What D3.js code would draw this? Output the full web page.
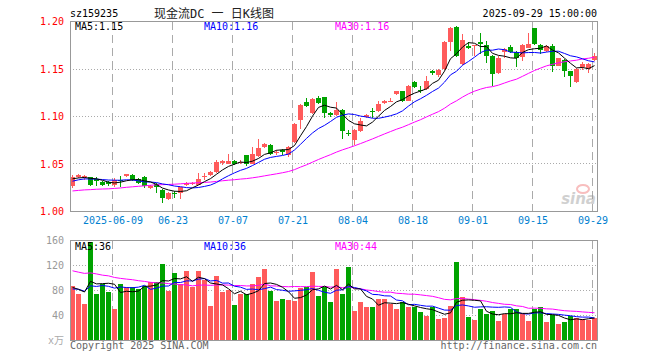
<!DOCTYPE html>
<html>
<head>
<meta charset="utf-8">
<script src="https://cdn.jsdelivr.net/npm/d3@7"></script>
<style>
  body { margin: 0; background: #fff; }
  svg text { font-family: "DejaVu Sans Mono", "Liberation Mono", "Noto Sans CJK SC", monospace; font-size: 10px; }
</style>
</head>
<body>
<svg id="chart" width="660" height="360"></svg>
<script>
// -------- data --------
const tickIndex = [7, 17, 27, 37, 47, 57, 67, 77, 87];
const tickLabels = ["2025-06-09", "06-23", "07-07", "07-21", "08-04", "08-18", "09-01", "09-15", "09-29"];
const priceTicks = [1.0, 1.05, 1.1, 1.15, 1.2];
const volTicks = [40, 80, 120, 160];

const opens = [
  1.0264, 1.0361, 1.0372, 1.0361, 1.034, 1.0313, 1.031, 1.0281, 1.0328, 1.037,
  1.0385, 1.034, 1.0368, 1.025, 1.029, 1.023, 1.0132, 1.02, 1.0194, 1.028,
  1.0285, 1.0281, 1.0358, 1.0385, 1.0413, 1.051, 1.05, 1.053, 1.051, 1.0594,
  1.0503, 1.058, 1.0677, 1.0705, 1.0625, 1.0645, 1.0594, 1.0733, 1.0958, 1.1156,
  1.104, 1.12, 1.1202, 1.104, 1.1016, 1.107, 1.0825, 1.0753, 1.0851, 1.099,
  1.1055, 1.1062, 1.114, 1.1155, 1.1238, 1.1265, 1.1167, 1.136, 1.1283, 1.129,
  1.1475, 1.144, 1.15, 1.1785, 1.1947, 1.1553, 1.1747, 1.1745, 1.1785, 1.1753,
  1.164, 1.1455, 1.168, 1.173, 1.168, 1.1628, 1.1725, 1.1927, 1.1753, 1.169,
  1.174, 1.1535, 1.16, 1.1476, 1.136, 1.1518, 1.15, 1.159
];
const closes = [
  1.0361, 1.0385, 1.0378, 1.0281, 1.0316, 1.0281, 1.029, 1.0333, 1.0325, 1.039,
  1.0333, 1.03, 1.0264, 1.027, 1.0257, 1.0142, 1.02, 1.0198, 1.0257, 1.0295,
  1.03, 1.0344, 1.0378, 1.0413, 1.0524, 1.053, 1.0528, 1.0497, 1.0524, 1.0497,
  1.0604, 1.067, 1.071, 1.0608, 1.063, 1.063, 1.068, 1.0924, 1.112, 1.1115,
  1.118, 1.114, 1.1038, 1.1016, 1.107, 1.0851, 1.082, 1.0858, 1.0956, 1.102,
  1.105, 1.1132, 1.116, 1.1165, 1.1265, 1.1167, 1.1325, 1.1307, 1.1278, 1.1378,
  1.1455, 1.149, 1.1785, 1.1934, 1.164, 1.1806, 1.1723, 1.1753, 1.176, 1.164,
  1.1448, 1.1615, 1.171, 1.1674, 1.162, 1.1753, 1.176, 1.176, 1.17, 1.174,
  1.1535, 1.1615, 1.148, 1.143, 1.15, 1.1554, 1.1554, 1.164
];
const highs = [
  1.038, 1.04, 1.0385, 1.0365, 1.036, 1.032, 1.0325, 1.035, 1.037, 1.04,
  1.039, 1.035, 1.037, 1.0275, 1.0295, 1.024, 1.0205, 1.022, 1.026, 1.031,
  1.031, 1.0403, 1.0403, 1.0425, 1.0538, 1.0545, 1.061, 1.054, 1.0545, 1.06,
  1.068, 1.076, 1.0725, 1.071, 1.065, 1.066, 1.069, 1.093, 1.113, 1.12,
  1.1195, 1.122, 1.121, 1.105, 1.1157, 1.108, 1.0858, 1.087, 1.098, 1.103,
  1.1087, 1.1165, 1.117, 1.12, 1.127, 1.127, 1.133, 1.137, 1.1318, 1.143,
  1.149, 1.15, 1.1795, 1.1945, 1.195, 1.1865, 1.1785, 1.1753, 1.1882, 1.1795,
  1.165, 1.164, 1.1725, 1.1757, 1.169, 1.176, 1.1875, 1.193, 1.176, 1.175,
  1.176, 1.162, 1.161, 1.148, 1.151, 1.157, 1.1565, 1.167
];
const lows = [
  1.025, 1.035, 1.0333, 1.027, 1.027, 1.027, 1.027, 1.026, 1.0257, 1.036,
  1.032, 1.029, 1.025, 1.024, 1.02, 1.009, 1.012, 1.014, 1.013, 1.027,
  1.0275, 1.028, 1.0333, 1.0375, 1.041, 1.049, 1.0495, 1.049, 1.0497, 1.0483,
  1.05, 1.0575, 1.0667, 1.06, 1.0594, 1.06, 1.0575, 1.0725, 1.087, 1.11,
  1.103, 1.113, 1.098, 1.1, 1.101, 1.0763, 1.079, 1.0703, 1.084, 1.098,
  1.0985, 1.105, 1.113, 1.115, 1.123, 1.115, 1.116, 1.13, 1.1243, 1.128,
  1.144, 1.142, 1.149, 1.169, 1.163, 1.154, 1.171, 1.164, 1.1656, 1.1566,
  1.1326, 1.145, 1.1615, 1.167, 1.1517, 1.1587, 1.172, 1.175, 1.1663, 1.168,
  1.1465, 1.153, 1.1413, 1.131, 1.135, 1.149, 1.146, 1.158
];
// volume, 万手
const volumes = [
  88, 74, 59, 157, 75, 90, 77, 51, 91, 85,
  86, 83, 88, 93, 94, 122, 79, 108, 90, 111,
  85, 112, 97, 55, 103, 78, 81, 57, 75, 75,
  90, 101, 115, 79, 64, 67, 65, 63, 84, 85,
  109, 72, 85, 61, 114, 74, 117, 47, 61, 54,
  53, 67, 67, 58, 50, 61, 54, 54, 45, 40,
  54, 35, 36, 56, 125, 70, 38, 33, 51, 42,
  48, 32, 42, 50, 50, 43, 32, 51, 54, 29,
  41, 26, 30, 40, 36, 35, 33, 36
];
// sessions before the visible window (estimated from where the MA lines start)
const priorCloses = [
  1.021, 1.022, 1.02, 1.019, 1.021, 1.023, 1.02, 1.018, 1.019, 1.017,
  1.014, 1.012, 1.01, 1.009, 1.011, 1.013, 1.012, 1.014, 1.016, 1.019,
  1.024, 1.028, 1.03, 1.032, 1.033, 1.034, 1.035, 1.033, 1.034
];
const priorVolumes = [
  140, 118, 132, 125, 150, 110, 128, 135, 120, 115,
  130, 122, 138, 118, 126, 112, 128, 120, 124, 130,
  78, 92, 70, 85, 75, 90, 80, 72, 95
];

// -------- setup --------
const svg = d3.select("#chart");
const left = 70, right = 597;
const n = closes.length;
const red = "#ff5b5b", green = "#00a300";
const maColours = { 5: "#000000", 10: "#0000ff", 30: "#ff00ff" };

// x: one 6px slot per session, candle body 5px wide
const x = d3.scaleLinear().domain([0, n]).range([left, left + n * 6]);
const bodyW = 5;
const y = d3.scaleLinear().domain([1.0, 1.2]).range([211.5, 21.5]);
const yv = d3.scaleLinear().domain([0, 160]).range([340.5, 240.5]);

// moving average over the visible window, using prior sessions for history
function movingAvg(series, prior, k) {
  const all = prior.concat(series);
  return series.map((d, i) => d3.mean(all.slice(prior.length + i - k + 1, prior.length + i + 1)));
}

const isUp = (i) => closes[i] >= opens[i];

// -------- grid --------
function drawGrid(top, bottom, hTicks, scale) {
  const g = svg.append("g").attr("shape-rendering", "crispEdges");
  g.selectAll("line.h")
    .data(hTicks)
    .enter()
    .append("line")
    .attr("x1", left)
    .attr("x2", right)
    .attr("y1", (d) => Math.round(scale(d) - 0.5) + 0.5)
    .attr("y2", (d) => Math.round(scale(d) - 0.5) + 0.5)
    .attr("stroke", "#aaa")
    .attr("stroke-dasharray", "1,2");
  g.selectAll("line.v")
    .data(tickIndex)
    .enter()
    .append("line")
    .attr("x1", (d) => x(d) + 0.5)
    .attr("x2", (d) => x(d) + 0.5)
    .attr("y1", top)
    .attr("y2", bottom)
    .attr("stroke", "#aaa")
    .attr("stroke-dasharray", "8,5");
}
drawGrid(21.5, 211.5, [1.05, 1.1, 1.15], y);
drawGrid(240.5, 340.5, [40, 80, 120], yv);

// -------- candles --------
const candles = svg
  .append("g")
  .attr("shape-rendering", "crispEdges")
  .selectAll("g")
  .data(d3.range(n))
  .enter()
  .append("g");

candles
  .append("line")
  .attr("x1", (i) => x(i) + 2.5)
  .attr("x2", (i) => x(i) + 2.5)
  .attr("y1", (i) => y(highs[i]))
  .attr("y2", (i) => y(lows[i]))
  .attr("stroke", (i) => (isUp(i) ? red : green));

candles
  .append("rect")
  .attr("x", (i) => x(i))
  .attr("width", bodyW)
  .attr("y", (i) => y(Math.max(opens[i], closes[i])))
  .attr("height", (i) => Math.max(1, Math.abs(y(opens[i]) - y(closes[i]))))
  .attr("fill", (i) => (isUp(i) ? red : green));

// -------- volume bars --------
svg
  .append("g")
  .attr("shape-rendering", "crispEdges")
  .selectAll("rect")
  .data(d3.range(n))
  .enter()
  .append("rect")
  .attr("x", (i) => x(i))
  .attr("width", bodyW)
  .attr("y", (i) => yv(volumes[i]))
  .attr("height", (i) => yv(0) - yv(volumes[i]))
  .attr("fill", (i) => (isUp(i) ? red : green));

// -------- moving averages --------
function drawMA(series, prior, scale) {
  [30, 10, 5].forEach((k) => {
    const ma = movingAvg(series, prior, k);
    svg
      .append("path")
      .datum(ma)
      .attr("fill", "none")
      .attr("stroke", maColours[k])
      .attr("stroke-width", 1)
      .attr("d", d3.line().x((d, i) => x(i) + 2.5).y((d) => scale(d)));
  });
}
drawMA(closes, priorCloses, y);
drawMA(volumes, priorVolumes, yv);

// -------- frames --------
[[21.5, 211.5], [240.5, 340.5]].forEach(([t, b]) => {
  svg
    .append("rect")
    .attr("x", left + 0.5)
    .attr("y", t)
    .attr("width", right - left)
    .attr("height", b - t)
    .attr("fill", "none")
    .attr("stroke", "#999")
    .attr("shape-rendering", "crispEdges");
});

// -------- axes --------
const yAxis = svg
  .append("g")
  .attr("transform", `translate(${left},0)`)
  .call(d3.axisLeft(y).tickValues(priceTicks).tickFormat(d3.format(".2f")).tickSize(0).tickPadding(6));
yAxis.select(".domain").remove();
yAxis.selectAll("text").attr("fill", "#f00").style("font-size", "10px").style("font-family", null);

const vAxis = svg
  .append("g")
  .attr("transform", `translate(${left},0)`)
  .call(d3.axisLeft(yv).tickValues(volTicks).tickSize(0).tickPadding(6));
vAxis.select(".domain").remove();
vAxis.selectAll("text").attr("fill", "#999").style("font-size", "10px").style("font-family", null);

const xAxis = svg
  .append("g")
  .attr("transform", "translate(0.5,211)")
  .call(d3.axisBottom(x).tickValues(tickIndex).tickFormat((d, i) => tickLabels[i]).tickSize(0).tickPadding(6));
xAxis.select(".domain").remove();
xAxis.selectAll("text").attr("fill", "#0080d0").style("font-size", "10px").style("font-family", null);

// -------- labels --------
function label(txt, xp, yp, colour, anchor) {
  return svg
    .append("text")
    .attr("x", xp)
    .attr("y", yp)
    .attr("fill", colour)
    .attr("text-anchor", anchor || "start")
    .text(txt);
}

const fmtP = d3.format(".2f");
const fmtV = d3.format(".0f");
const last = n - 1;
label("MA5:" + fmtP(movingAvg(closes, priorCloses, 5)[last]), 75, 30, "#000");
label("MA10:" + fmtP(movingAvg(closes, priorCloses, 10)[last]), 204, 30, "#0000ff");
label("MA30:" + fmtP(movingAvg(closes, priorCloses, 30)[last]), 335, 30, "#ff00ff");
label("MA5:" + fmtV(movingAvg(volumes, priorVolumes, 5)[last]), 75, 250, "#000");
label("MA10:" + fmtV(movingAvg(volumes, priorVolumes, 10)[last]), 204, 250, "#0000ff");
label("MA30:" + fmtV(movingAvg(volumes, priorVolumes, 30)[last]), 335, 250, "#ff00ff");

label("sz159235", 70, 17, "#000");
label("现金流DC 一 日K线图", 214, 18, "#222", "middle").style("font-size", "12px");
label("2025-09-29 15:00:00", 597, 17, "#000", "end");
label("x万", 64, 344, "#aaa", "end");
label("Copyright 2025 SINA.COM", 70, 349, "#666");
label("http://finance.sina.com.cn", 597, 349, "#666", "end");

// sina watermark
const wm = svg.append("g").attr("opacity", 0.45);
wm.append("ellipse").attr("cx", 583).attr("cy", 189).attr("rx", 6).attr("ry", 4)
  .attr("fill", "none").attr("stroke", "#f07070").attr("stroke-width", 2);
wm.append("text").attr("x", 596).attr("y", 204).attr("text-anchor", "end")
  .attr("fill", "#999").style("font-size", "15px").style("font-weight", "bold")
  .style("font-style", "italic").style("font-family", "'DejaVu Sans', sans-serif").text("sina");
</script>
</body>
</html>
